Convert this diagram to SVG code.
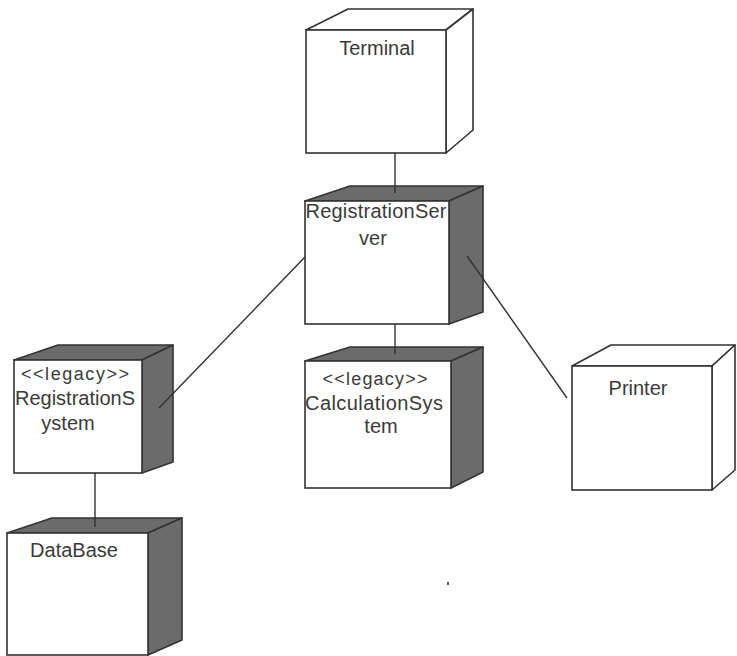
<svg xmlns="http://www.w3.org/2000/svg" width="737" height="656" viewBox="0 0 737 656">
<style>
.front{fill:#fff;stroke:#333;stroke-width:1.6}
.lite{fill:#fff;stroke:#333;stroke-width:1.6;stroke-linejoin:round}
.dark{fill:#6b6b6b;stroke:#333;stroke-width:1.6;stroke-linejoin:round}
.lbl{font-family:"Liberation Sans",Arial,sans-serif;font-size:20px;fill:#3a3a3a;text-anchor:middle}
.conn line{stroke:#333;stroke-width:1.4}
</style>
<rect width="737" height="656" fill="#fff"/>
<g id="terminal">
<polygon class="lite" points="306,30 348,9 473,9 446,30"/>
<polygon class="lite" points="446,30 473,9 473,130 446,153"/>
<rect class="front" x="306" y="30" width="140" height="123"/>
<text class="lbl" x="377" y="55">Terminal</text>
</g>
<g id="registration-server">
<polygon class="dark" points="305,201 350,186 483,186 449,201"/>
<polygon class="dark" points="449,201 483,186 483,312 449,324"/>
<rect class="front" x="305" y="201" width="144" height="123"/>
<text class="lbl" x="376" y="218" textLength="141">RegistrationSer</text>
<text class="lbl" x="373" y="245">ver</text>
</g>
<g id="calculation-system">
<polygon class="dark" points="305,361 350,347 483,347 451,361"/>
<polygon class="dark" points="451,361 483,347 483,472 451,488"/>
<rect class="front" x="305" y="361" width="146" height="127"/>
<text class="lbl" x="375" y="385" style="font-size:18px" textLength="105">&lt;&lt;legacy&gt;&gt;</text>
<text class="lbl" x="374" y="410" textLength="138">CalculationSys</text>
<text class="lbl" x="381" y="433">tem</text>
</g>
<g id="registration-system">
<polygon class="dark" points="14,360 58,345 173,345 142,360"/>
<polygon class="dark" points="142,360 173,345 173,462 142,473"/>
<rect class="front" x="14" y="360" width="128" height="113"/>
<text class="lbl" x="75" y="380" style="font-size:18px" textLength="108">&lt;&lt;legacy&gt;&gt;</text>
<text class="lbl" x="75" y="405" textLength="120">RegistrationS</text>
<text class="lbl" x="68" y="430">ystem</text>
</g>
<g id="database">
<polygon class="dark" points="7,533 52,518 182,518 148,533"/>
<polygon class="dark" points="148,533 182,518 182,640 148,655"/>
<rect class="front" x="7" y="533" width="141" height="122"/>
<text class="lbl" x="74" y="557">DataBase</text>
</g>
<g id="printer">
<polygon class="lite" points="572,366 611,345 735,345 712,366"/>
<polygon class="lite" points="712,366 735,345 735,470 712,490"/>
<rect class="front" x="572" y="366" width="140" height="124"/>
<text class="lbl" x="638" y="395">Printer</text>
</g>
<g class="conn" id="connectors">
<line x1="395" y1="153" x2="395" y2="193"/>
<line x1="395" y1="324" x2="395" y2="354"/>
<line x1="305" y1="257" x2="159" y2="408"/>
<line x1="467" y1="256" x2="567" y2="398"/>
<line x1="95" y1="473" x2="95" y2="527"/>
</g>
<rect x="447" y="582" width="2" height="3" fill="#555"/>
</svg>
